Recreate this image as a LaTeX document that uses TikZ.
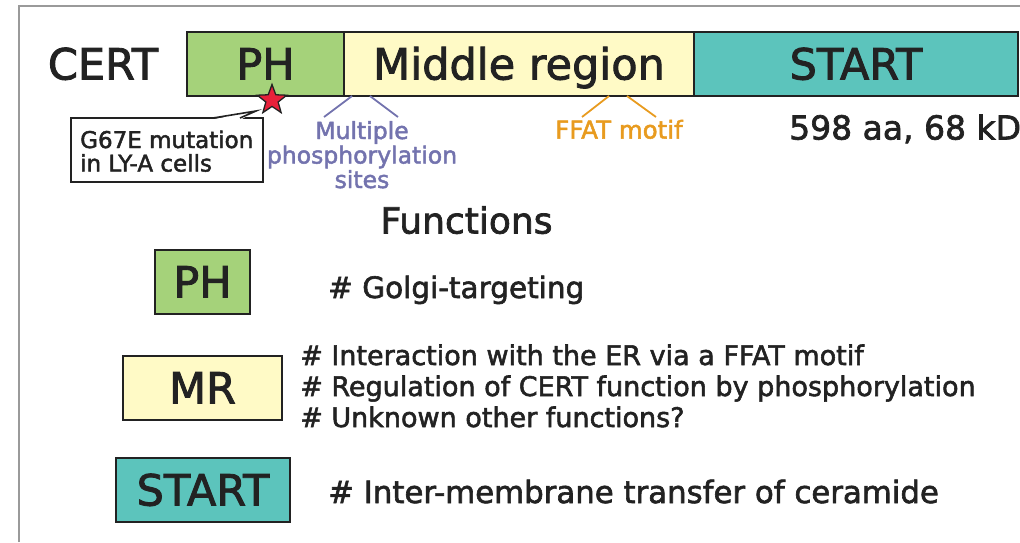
\documentclass[tikz,border=0pt]{standalone}
\usepackage{fontspec}
\setmainfont{DejaVu Sans}[FakeBold=2]
\usetikzlibrary{shapes.geometric}

\definecolor{phgreen}{HTML}{A5D27A}
\definecolor{mryellow}{HTML}{FFFAC6}
\definecolor{startteal}{HTML}{5CC4BC}
\definecolor{phospho}{HTML}{7373AE}
\definecolor{ffat}{HTML}{E89B1F}
\definecolor{mutred}{HTML}{E8203A}
\definecolor{ink}{HTML}{222222}
\definecolor{framegray}{HTML}{9A9A9A}

\newcommand{\fs}[1]{\fontsize{#1}{#1}\selectfont}

\tikzset{
  dombox/.style={draw=ink, line width=2.2pt, inner sep=0pt, minimum height=64pt,
    text height=31pt, text depth=0pt, font=\fs{43}, text=ink},
  txt/.style={inner sep=0pt, anchor=base west, text=ink},
  tickline/.style={line width=1.8pt},
}

\begin{document}
\begin{tikzpicture}[x=1pt, y=-1pt]
\useasboundingbox (0,0) rectangle (1020,542);

% frame
\draw[framegray, line width=1.8pt] (19,542) -- (19,6) -- (1020,6);

% domain bar
\node[txt, anchor=center, font=\fs{43}, text height=31pt, text depth=0pt] (cert) at (103,64) {CERT};
\node[dombox, fill=phgreen, minimum width=157pt] (ph) at (265.5,64) {PH};
\node[dombox, fill=mryellow, minimum width=350pt] (mid) at (519,64) {Middle region};
\node[dombox, fill=startteal, minimum width=324pt] (start) at (856,64) {START};

\node[txt, font=\fs{33}] (size) at (789,139.5) {598 aa, 68 kD};

% phosphorylation sites
\coordinate (pa) at (352,96);
\coordinate (pb) at (370,96);
\coordinate (pa2) at (324,117);
\coordinate (pb2) at (398,117);
\draw[tickline, phospho] (pa) -- (pa2);
\draw[tickline, phospho] (pb) -- (pb2);
\node[inner sep=0pt, anchor=base, text=phospho, font=\fs{23.5}] (ph1) at (362,139) {Multiple};
\node[inner sep=0pt, anchor=base, text=phospho, font=\fs{23.5}] (ph2) at (362,163.5) {phosphorylation};
\node[inner sep=0pt, anchor=base, text=phospho, font=\fs{23.5}] (ph3) at (362,188) {sites};

% FFAT motif
\coordinate (fa) at (609,96);
\coordinate (fb) at (627,96);
\coordinate (fa2) at (582,117);
\coordinate (fb2) at (656,117);
\draw[tickline, ffat] (fa) -- (fa2);
\draw[tickline, ffat] (fb) -- (fb2);
\node[inner sep=0pt, anchor=base, text=ffat, font=\fs{24.5}] (ffatlbl) at (619,138.5) {FFAT motif};

% mutation callout
\node[draw=ink, line width=1.6pt, fill=white, minimum width=192pt, minimum height=64pt,
      inner sep=0pt] (callout) at (167,150) {};
\node[txt, font=\fs{23}] (c1) at (80,148) {G67E mutation};
\node[txt, font=\fs{23}] (c2) at (80,171.5) {in LY-A cells};
\coordinate (tailA) at (213,118);
\coordinate (tailB) at (240,118);
\coordinate (tailTip) at (256,111);
\fill[white] (212,119.5) -- (tailTip) -- (241,119.5) -- cycle;
\draw[ink, line width=1.6pt, line join=miter] (tailA) -- (tailTip) -- (tailB);
\node[star, star points=5, star point ratio=2.4, minimum size=31pt, inner sep=0pt,
      fill=mutred, draw=ink, line width=1.3pt] (mut) at (272,100) {};

% functions
\node[inner sep=0pt, anchor=base, text=ink, font=\fs{36}] (func) at (466.5,233.5) {Functions};

\node[dombox, fill=phgreen, minimum width=95pt, line width=1.6pt] (fph) at (202.5,282) {PH};
\node[txt, font=\fs{29.5}] (fph1) at (328,298) {\# Golgi-targeting};

\node[dombox, fill=mryellow, minimum width=159pt, line width=1.6pt] (fmr) at (202.5,388) {MR};
\node[txt, font=\fs{27}] (fmr1) at (300,365) {\# Interaction with the ER via a FFAT motif};
\node[txt, font=\fs{27}] (fmr2) at (300,396) {\# Regulation of CERT function by phosphorylation};
\node[txt, font=\fs{27}] (fmr3) at (300,427) {\# Unknown other functions?};

\node[dombox, fill=startteal, minimum width=174pt, line width=1.6pt] (fst) at (203,490) {START};
\node[txt, font=\fs{30.8}] (fst1) at (328,503) {\# Inter-membrane transfer of ceramide};
\end{tikzpicture}
\end{document}
